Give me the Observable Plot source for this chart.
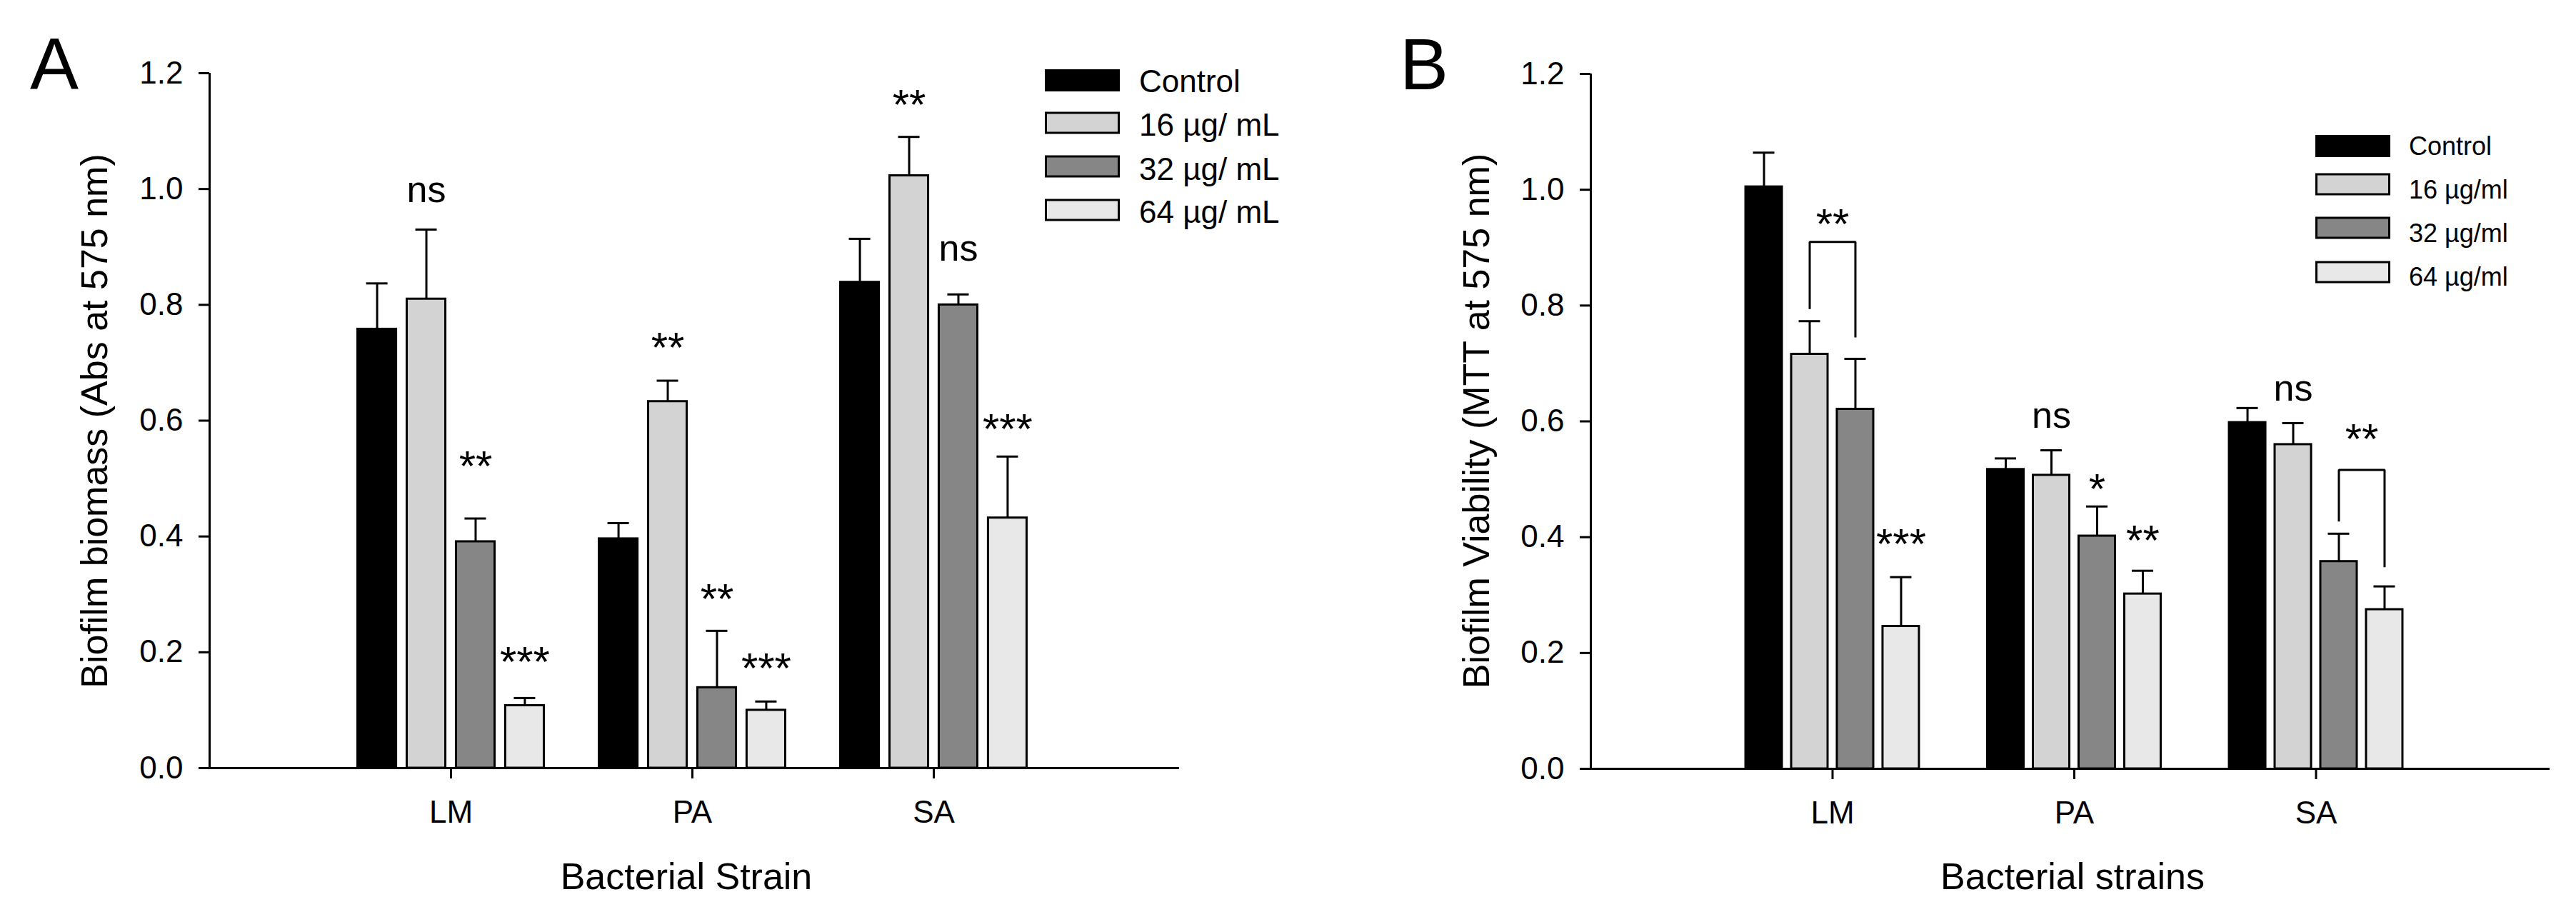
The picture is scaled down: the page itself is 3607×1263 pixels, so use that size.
<!DOCTYPE html>
<html>
<head>
<meta charset="utf-8">
<script src="https://cdn.jsdelivr.net/npm/d3@7"></script>
<script src="https://cdn.jsdelivr.net/npm/@observablehq/plot@0.6"></script>
<style>
  html, body { margin: 0; padding: 0; background: #fff; }
  #page { position: relative; width: 3607px; height: 1263px; display: flex; font-family: "Liberation Sans", Arial, sans-serif; }
  #page > svg { display: block; flex: none; }
  #overlay { position: absolute; left: 0; top: 0; pointer-events: none; }
</style>
</head>
<body>
<div id="page"></div>
<script>
// ---------- data ----------
const strains = ["LM", "PA", "SA"];
const seriesA = ["Control", "16 µg/ mL", "32 µg/ mL", "64 µg/ mL"];
const seriesB = ["Control", "16 µg/ml", "32 µg/ml", "64 µg/ml"];
const fills = ["#000000", "#d3d3d3", "#868686", "#e8e8e8"];
const yTicks = [0, 0.2, 0.4, 0.6, 0.8, 1.0, 1.2];

// Panel A – Biofilm biomass (Abs at 575 nm), values per strain LM, PA, SA
const meanA_control = [0.758, 0.396, 0.839];
const meanA_16 = [0.810, 0.633, 1.023];
const meanA_32 = [0.391, 0.139, 0.800];
const meanA_64 = [0.108, 0.100, 0.432];
const errA_control = [0.079, 0.027, 0.075];
const errA_16 = [0.120, 0.036, 0.067];
const errA_32 = [0.040, 0.098, 0.018];
const errA_64 = [0.013, 0.015, 0.106];

// Panel B – Biofilm viability (MTT at 575 nm)
const meanB_control = [1.005, 0.517, 0.598];
const meanB_16 = [0.716, 0.507, 0.560];
const meanB_32 = [0.621, 0.402, 0.358];
const meanB_64 = [0.246, 0.302, 0.275];
const errB_control = [0.059, 0.019, 0.025];
const errB_16 = [0.057, 0.043, 0.037];
const errB_32 = [0.087, 0.051, 0.048];
const errB_64 = [0.085, 0.040, 0.040];

// significance labels (strain, bar index, label, baseline value)
const sigA_strain = ["LM", "LM", "LM", "PA", "PA", "PA", "SA", "SA", "SA"];
const sigA_bar = [1, 2, 3, 1, 2, 3, 1, 2, 3];
const sigA_label = ["ns", "**", "***", "**", "**", "***", "**", "ns", "***"];
const sigA_y = [0.977, 0.497, 0.159, 0.701, 0.267, 0.147, 1.120, 0.876, 0.560];

const sigB_strain = ["LM", "PA", "PA", "PA", "SA"];
const sigB_bar = [3, 1, 2, 3, 1];
const sigB_label = ["***", "ns", "*", "**", "ns"];
const sigB_y = [0.363, 0.589, 0.458, 0.369, 0.636];

// comparison brackets in panel B
const bracketB_strain = ["LM", "SA"];
const bracketB_from = [1, 2];
const bracketB_to = [2, 3];
const bracketB_top = [0.910, 0.516];
const bracketB_leftEnd = [0.794, 0.427];
const bracketB_rightEnd = [0.745, 0.348];
const bracketB_label = ["**", "**"];
const bracketB_labelY = [0.916, 0.544];

// ---------- drawing ----------
const FONT = '"Liberation Sans", Arial, sans-serif';

function panel(cfg) {
  const {series, means, errs, sig, brackets, width, marginLeft, marginRight, marginTop, marginBottom, step, barW, capHalf, axisInsetRight} = cfg;
  const rows = [];
  strains.forEach((s, i) => series.forEach((ser, k) => rows.push({strain: s, series: ser, i, k, value: means[k][i], err: errs[k][i]})));
  const bx = (strain, k) => strains.indexOf(strain) + 1 + (k - 1.5) * step;
  const cx = d => bx(d.strain, d.k);

  const sigRows = sig.strain.map((s, j) => ({x: bx(s, sig.bar[j]), y: sig.y[j], label: sig.label[j]}));
  const bracketPts = [];
  if (brackets) {
    brackets.strain.forEach((s, j) => {
      const x1 = bx(s, brackets.from[j]), x2 = bx(s, brackets.to[j]);
      bracketPts.push({id: j, x: x1, y: brackets.leftEnd[j]});
      bracketPts.push({id: j, x: x1, y: brackets.top[j]});
      bracketPts.push({id: j, x: x2, y: brackets.top[j]});
      bracketPts.push({id: j, x: x2, y: brackets.rightEnd[j]});
      sigRows.push({x: (x1 + x2) / 2, y: brackets.labelY[j], label: brackets.label[j]});
    });
  }
  const nsRows = sigRows.filter(d => d.label === "ns");
  const starRows = sigRows.filter(d => d.label !== "ns");

  return Plot.plot({
    width, height: 1263, marginLeft, marginRight, marginTop, marginBottom,
    style: {fontFamily: FONT, fontSize: "44px", color: "black", background: "white", overflow: "visible"},
    x: {type: "linear", domain: [0, 4]},
    y: {type: "linear", domain: [0, 1.2]},
    color: {domain: series, range: fills},
    marks: [
      Plot.rect(rows, {x1: d => cx(d) - barW / 2, x2: d => cx(d) + barW / 2, y1: d => 0, y2: "value", fill: "series", stroke: "black", strokeWidth: 3}),
      Plot.ruleX(rows, {x: cx, y1: "value", y2: d => d.value + d.err, stroke: "black", strokeWidth: 3}),
      Plot.ruleY(rows, {y: d => d.value + d.err, x1: d => cx(d) - capHalf, x2: d => cx(d) + capHalf, stroke: "black", strokeWidth: 3}),
      Plot.line(bracketPts, {x: "x", y: "y", z: "id", stroke: "black", strokeWidth: 3, strokeLinejoin: "miter", strokeLinecap: "butt"}),
      Plot.text(nsRows, {x: "x", y: "y", text: "label", fontSize: 52, lineAnchor: "bottom", fill: "black"}),
      Plot.text(starRows, {x: "x", y: "y", text: "label", fontSize: 60, lineAnchor: "bottom", fill: "black"}),
      Plot.ruleX([0], {stroke: "black", strokeWidth: 3}),
      Plot.ruleY([0], {stroke: "black", strokeWidth: 3, insetLeft: -15, insetRight: axisInsetRight}),
      Plot.axisY({ticks: yTicks, tickFormat: d3.format(".1f"), tickSize: 15, tickPadding: 22, fontSize: 44, stroke: "black", strokeWidth: 3, label: null}),
      Plot.axisX({ticks: [1, 2, 3], tickFormat: t => strains[t - 1], tickSize: 15, tickPadding: 30, fontSize: 44, stroke: "black", strokeWidth: 3, label: null})
    ]
  });
}

const page = document.getElementById("page");

const chartA = panel({
  series: seriesA,
  means: [meanA_control, meanA_16, meanA_32, meanA_64],
  errs: [errA_control, errA_16, errA_32, errA_64],
  sig: {strain: sigA_strain, bar: sigA_bar, label: sigA_label, y: sigA_y},
  brackets: null,
  width: 1800, marginLeft: 293, marginRight: 155, marginTop: 102, marginBottom: 188,
  step: 0.204, barW: 0.16, capHalf: 0.0444, axisInsetRight: -6
});
const chartB = panel({
  series: seriesB,
  means: [meanB_control, meanB_16, meanB_32, meanB_64],
  errs: [errB_control, errB_16, errB_32, errB_64],
  sig: {strain: sigB_strain, bar: sigB_bar, label: sigB_label, y: sigB_y},
  brackets: {strain: bracketB_strain, from: bracketB_from, to: bracketB_to, top: bracketB_top, leftEnd: bracketB_leftEnd, rightEnd: bracketB_rightEnd, label: bracketB_label, labelY: bracketB_labelY},
  width: 1807, marginLeft: 427, marginRight: 26, marginTop: 103, marginBottom: 187,
  step: 0.189, barW: 0.1507, capHalf: 0.0443, axisInsetRight: 11
});
page.appendChild(chartA);
page.appendChild(chartB);

// ---------- overlay: panel letters, axis titles, legends ----------
const ov = d3.select(page).append("svg").attr("id", "overlay")
  .attr("width", 3607).attr("height", 1263)
  .attr("font-family", FONT).attr("fill", "black");

ov.append("text").attr("x", 42).attr("y", 125).attr("font-size", 102).text("A");
ov.append("text").attr("x", 1960).attr("y", 125).attr("font-size", 102).text("B");

ov.append("text").attr("transform", "translate(150,589.5) rotate(-90)").attr("text-anchor", "middle")
  .attr("font-size", 52).text("Biofilm biomass (Abs at 575 nm)");
ov.append("text").attr("transform", "translate(2084.5,589.5) rotate(-90)").attr("text-anchor", "middle")
  .attr("font-size", 52).text("Biofilm Viability (MTT at 575 nm)");
ov.append("text").attr("x", 961).attr("y", 1245).attr("text-anchor", "middle").attr("font-size", 52).text("Bacterial Strain");
ov.append("text").attr("x", 2902).attr("y", 1245).attr("text-anchor", "middle").attr("font-size", 52).text("Bacterial strains");

function legend(series, boxX, boxCenters, textX, textBase, fontSize) {
  const g = ov.append("g");
  series.forEach((s, k) => {
    g.append("rect").attr("x", boxX).attr("y", boxCenters[k] - 14).attr("width", 102).attr("height", 28)
      .attr("fill", fills[k]).attr("stroke", "black").attr("stroke-width", 3);
    g.append("text").attr("x", textX).attr("y", textBase[k]).attr("font-size", fontSize).text(s);
  });
}
legend(seriesA, 1464.5, [112.5, 172, 233, 294], 1595, [128.5, 190, 251.5, 312], 44);
legend(seriesB, 3243.5, [204.5, 258, 319, 381], 3373, [217, 278, 339, 400], 36);
</script>
</body>
</html>
